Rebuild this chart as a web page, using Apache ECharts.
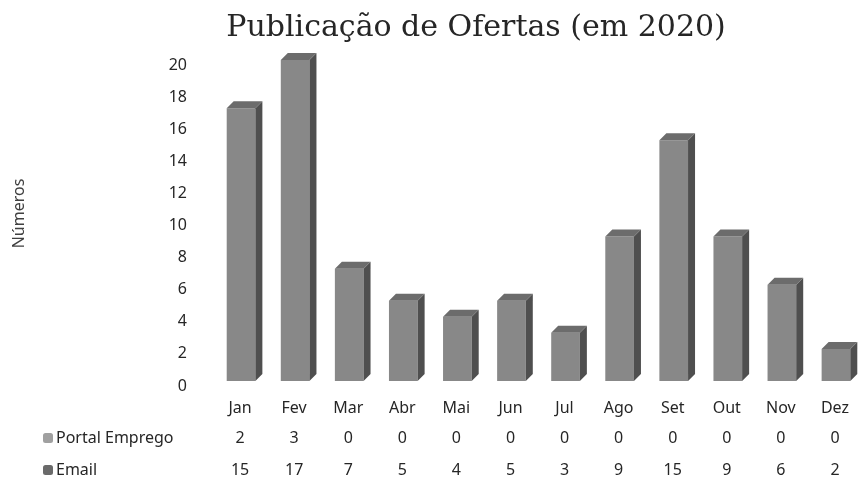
<!DOCTYPE html>
<html>
<head>
<meta charset="utf-8">
<script src="https://cdn.jsdelivr.net/npm/echarts@6/dist/echarts.min.js"></script>
<style>
  html, body { margin: 0; padding: 0; background: #fff; }
  #main { width: 862px; height: 484px; }
</style>
</head>
<body>
<div id="main"></div>
<script>
// dados
var months = ['Jan', 'Fev', 'Mar', 'Abr', 'Mai', 'Jun', 'Jul', 'Ago', 'Set', 'Out', 'Nov', 'Dez'];
var portalEmprego = [2, 3, 0, 0, 0, 0, 0, 0, 0, 0, 0, 0];
var email = [15, 17, 7, 5, 4, 5, 3, 9, 15, 9, 6, 2];
var yTicks = [0, 2, 4, 6, 8, 10, 12, 14, 16, 18, 20];

var labelFont = 'Noto Sans';
var textColor = '#262626';
var depth = 7;

// totais para a barra 3D (Portal Emprego empilhado sobre Email)
var totals = months.map(function (m, i) {
    return [i, email[i] + portalEmprego[i], email[i]];
});

// desenha a coluna com frente, lado e topo
function renderBar(params, api) {
    var i = api.value(0);
    var top = api.coord([i, api.value(1)]);
    var base = api.coord([i, 0]);
    var bw = api.size([1, 0])[0] * 0.53;
    var x0 = top[0] - bw / 2 + 1;
    var x1 = x0 + bw;
    var d = depth;
    return {
        type: 'group',
        children: [
            {
                type: 'rect',
                shape: { x: x0, y: top[1], width: bw, height: base[1] - top[1] },
                style: { fill: '#888888' }
            },
            {
                type: 'polygon',
                shape: { points: [[x1, top[1]], [x1 + d, top[1] - d], [x1 + d, base[1] - d], [x1, base[1]]] },
                style: { fill: '#4f4f4f' }
            },
            {
                type: 'polygon',
                shape: { points: [[x0, top[1]], [x0 + d, top[1] - d], [x1 + d, top[1] - d], [x1, top[1]]] },
                style: { fill: '#6c6c6c' }
            }
        ]
    };
}

function tableAxis(margin, values) {
    return {
        type: 'category',
        data: months,
        position: 'bottom',
        axisLine: { show: false },
        axisTick: { show: false },
        axisLabel: {
            margin: margin, fontFamily: labelFont, fontSize: 16, color: textColor,
            formatter: function (v, i) { return String(values[i]); }
        }
    };
}

function legendRow(name, top) {
    return {
        left: 38,
        top: top,
        itemWidth: 10,
        itemHeight: 10,
        selectedMode: false,
        textStyle: { fontFamily: labelFont, fontSize: 16, color: textColor, padding: [0, 0, 0, -2] },
        data: [name]
    };
}

var chart = echarts.init(document.getElementById('main'));

var option = {
    animation: false,
    title: {
        text: 'Publicação de Ofertas (em 2020)',
        left: 471,
        textAlign: 'center',
        top: 8,
        textStyle: { fontFamily: 'DejaVu Serif', fontWeight: 'normal', fontSize: 30, color: textColor }
    },
    legend: [
        legendRow('Portal Emprego', 425),
        legendRow('Email', 457)
    ],
    grid: { left: 213, top: 60, width: 653, bottom: 103 },
    xAxis: [
        {
            type: 'category',
            data: months,
            axisLine: { show: false },
            axisTick: { show: false },
            axisLabel: { margin: 19, fontFamily: labelFont, fontSize: 16, color: textColor }
        },
        tableAxis(49, portalEmprego),
        tableAxis(81, email)
    ],
    yAxis: {
        type: 'value',
        min: yTicks[0],
        max: yTicks[yTicks.length - 1],
        interval: 2,
        name: 'Números',
        nameLocation: 'middle',
        nameGap: 186,
        nameTextStyle: { fontFamily: labelFont, fontSize: 16, color: '#404040', padding: [0, 0, 0, 14] },
        axisLine: { show: false },
        axisTick: { show: false },
        splitLine: { show: false },
        axisLabel: { margin: 26, fontFamily: labelFont, fontSize: 16, color: textColor, verticalAlign: 'top', lineHeight: 10 }
    },
    series: [
        // séries vazias só para a legenda
        { name: 'Portal Emprego', type: 'bar', stack: 's', data: [], itemStyle: { color: '#a0a0a0' } },
        { name: 'Email', type: 'bar', stack: 's', data: [], itemStyle: { color: '#6a6a6a' } },
        {
            name: 'Total',
            type: 'custom',
            renderItem: renderBar,
            encode: { x: 0, y: 1 },
            data: totals,
            z: 3
        }
    ]
};

chart.setOption(option);
</script>
</body>
</html>
